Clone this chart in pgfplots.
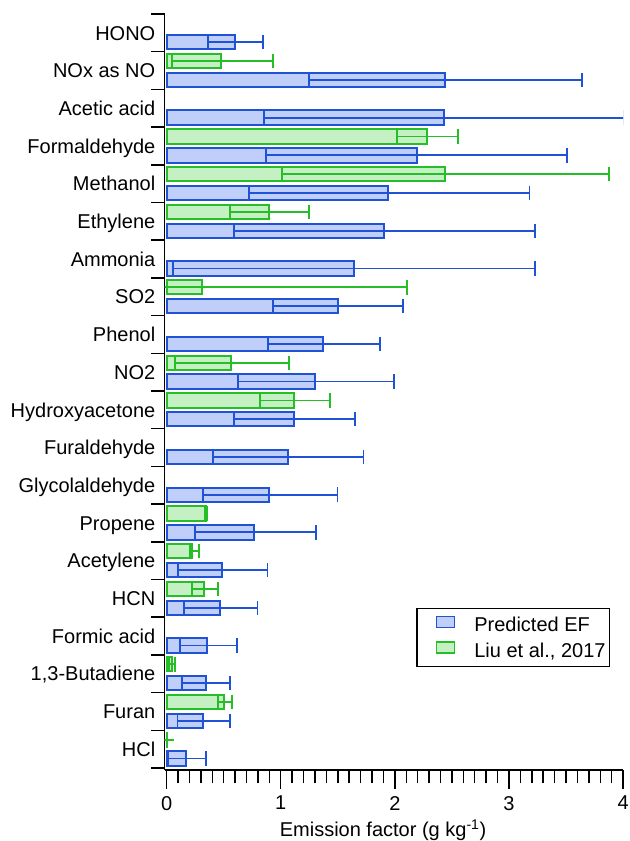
\documentclass[border=0pt]{standalone}
\usepackage{fontspec}
\setmainfont{Liberation Sans}
\usepackage{pgfplots}
\pgfplotsset{compat=1.18}
\usepackage{pgfplotstable}

\definecolor{bEdge}{RGB}{32,82,214}
\definecolor{bFill}{RGB}{192,206,250}
\definecolor{gEdge}{RGB}{38,190,38}
\definecolor{gFill}{RGB}{196,240,196}

% Predicted EF: y position, mean, +err, -err
\pgfplotstableread{
y     mean   ep     em
19.25 0.600  0.245  0.235
18.25 2.440  1.200  1.195
17.25 2.430  1.580  1.574
16.25 2.190  1.320  1.316
15.25 1.940  1.240  1.220
14.25 1.905  1.325  1.312
13.25 1.640  1.590  1.584
12.25 1.505  0.565  0.572
11.25 1.372  0.495  0.484
10.25 1.300  0.690  0.672
9.25  1.116  0.537  0.523
8.25  1.060  0.666  0.653
7.25  0.898  0.600  0.582
6.25  0.768  0.541  0.519
5.25  0.488  0.396  0.386
4.25  0.470  0.326  0.319
3.25  0.358  0.260  0.242
2.25  0.344  0.214  0.207
1.25  0.320  0.238  0.225
0.25  0.168  0.176  0.158
}\bluetab

% Liu et al., 2017
\pgfplotstableread{
y     mean   ep     em
18.75 0.480  0.450  0.430
16.75 2.280  0.270  0.260
15.75 2.440  1.440  1.430
14.75 0.900  0.350  0.346
12.75 0.310  1.800  1.800
10.75 0.568  0.506  0.494
9.75  1.120  0.310  0.302
6.75  0.344  0.011  0.009
5.75  0.222  0.063  0.020
4.75  0.330  0.123  0.109
2.75  0.044  0.030  0.026
1.75  0.500  0.072  0.050
0.75  0.006  0.000  0.000
}\greentab

\pgfplotsset{commonax/.style={
  scale only axis,
  width=343.9pt, height=567pt,
  xmin=-0.018, xmax=4, ymin=-0.053, ymax=20,
  tick align=outside,
  axis line style={line width=1.1pt, black},
  every tick/.style={line width=1.1pt, black},
  font=\fontsize{15pt}{18pt}\selectfont,
  tick label style={font=\fontsize{15pt}{18pt}\selectfont},
  /pgf/number format/assume math mode=true,
}}

\begin{document}
\begin{tikzpicture}
% overlay axis: longer marks at the integer ticks
\begin{axis}[
  commonax,
  axis x line*=bottom, axis y line=none,
  major tick length=14pt,
  xtick={0,1,2,3,4},
  xticklabels={},
]
\end{axis}
\begin{axis}[
  commonax,
  axis x line*=bottom, axis y line*=left,
  major tick length=10pt,
  xtick={0,0.1,0.2,0.3,0.4,0.5,0.6,0.7,0.8,0.9,1,1.1,1.2,1.3,1.4,1.5,1.6,1.7,1.8,1.9,2,2.1,2.2,2.3,2.4,2.5,2.6,2.7,2.8,2.9,3,3.1,3.2,3.3,3.4,3.5,3.6,3.7,3.8,3.9,4},
  xticklabels={0,,,,,,,,,,1,,,,,,,,,,2,,,,,,,,,,3,,,,,,,,,,4},
  ytick={0,1,2,3,4,5,6,7,8,9,10,11,12,13,14,15,16,17,18,19,20},
  yticklabels={},
  xticklabel style={yshift=-6pt},
  extra y ticks={19.5,18.5,17.5,16.5,15.5,14.5,13.5,12.5,11.5,10.5,9.5,8.5,7.5,6.5,5.5,4.5,3.5,2.5,1.5,0.5},
  extra y tick labels={HONO,NOx as NO,Acetic acid,Formaldehyde,Methanol,Ethylene,Ammonia,SO2,Phenol,NO2,Hydroxyacetone,Furaldehyde,Glycolaldehyde,Propene,Acetylene,HCN,Formic acid,{1,3-Butadiene},Furan,HCl},
  extra y tick style={major tick length=0pt, yticklabel style={anchor=base east, inner sep=0pt, xshift=-6.75pt, yshift=-5.4pt}},
  xlabel={Emission factor (g kg\textsuperscript{-1})},
  xlabel style={at={(axis description cs:0.4766,-0.0794)}, anchor=center},
  legend cell align=left,
  legend style={at={(axis description cs:0.5485,0.2143)}, anchor=north west,
    draw=black, line width=1.1pt, fill=white,
    inner xsep=3pt, inner ysep=5.25pt, row sep=5.5pt, column sep=14.25pt,
    font=\fontsize{15pt}{18pt}\selectfont,
    nodes={inner sep=0pt, text height=11pt, text depth=1.5pt}},
]
\addlegendimage{legend image code/.code={\path (0pt,0pt); \draw[draw=bEdge, fill=bFill, line width=1.2pt] (11.25pt,-1.5pt) rectangle (24.75pt,6.75pt);}}
\addlegendentry{Predicted EF}
\addlegendimage{legend image code/.code={\path (0pt,0pt); \draw[draw=gEdge, fill=gFill, line width=1.2pt] (11.25pt,-1.5pt) rectangle (24.75pt,6.75pt);}}
\addlegendentry{Liu et al., 2017}

\addplot[forget plot, xbar, bar width=0.38, bar shift=0pt, draw=bEdge, fill=bFill, line width=1.5pt,
  error bars/.cd, x dir=both, x explicit, error mark=|,
  error bar style={line width=1.35pt, draw=bEdge},
  error mark options={mark size=5.4pt, line width=1.35pt, draw=bEdge}]
  table[x=mean, y=y, x error plus=ep, x error minus=em]{\bluetab};
\addplot[forget plot, xbar, bar width=0.38, bar shift=0pt, draw=gEdge, fill=gFill, line width=1.5pt,
  error bars/.cd, x dir=both, x explicit, error mark=|,
  error bar style={line width=1.35pt, draw=gEdge},
  error mark options={mark size=5.4pt, line width=1.35pt, draw=gEdge}]
  table[x=mean, y=y, x error plus=ep, x error minus=em]{\greentab};
\end{axis}
\pgfresetboundingbox
\useasboundingbox (-123.4pt,-53.25pt) rectangle (349.1pt,577.5pt);
\end{tikzpicture}
\end{document}
